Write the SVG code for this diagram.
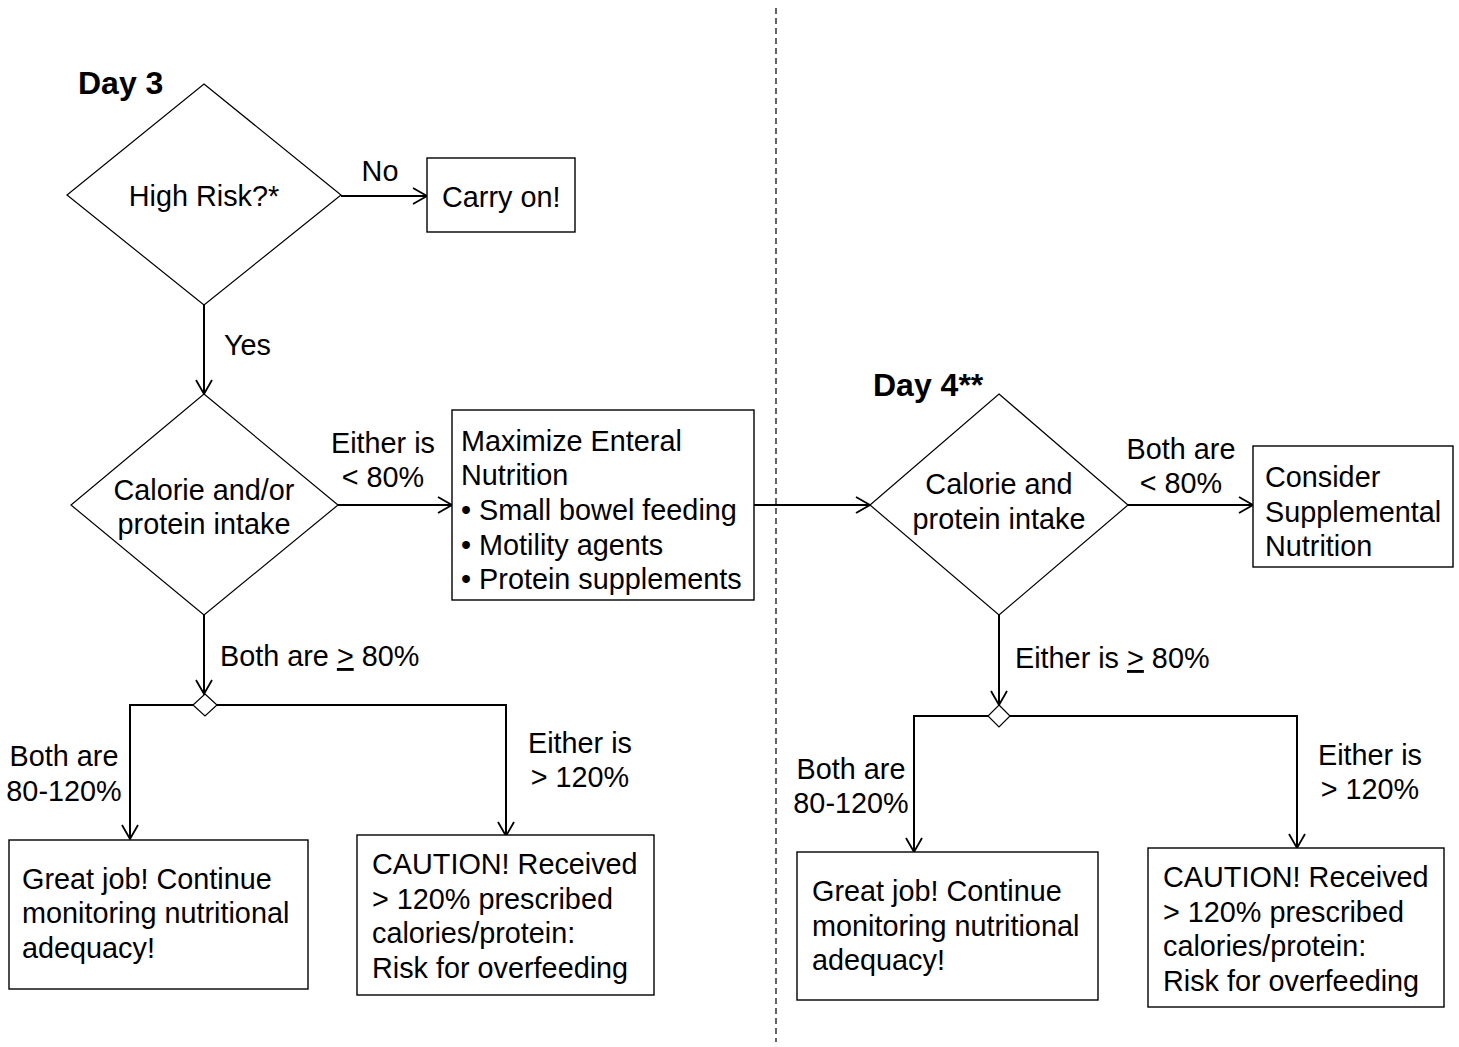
<svg xmlns="http://www.w3.org/2000/svg" width="1459" height="1047" viewBox="0 0 1459 1047">
<defs>
<marker id="arr" markerUnits="userSpaceOnUse" markerWidth="18" markerHeight="20" refX="15" refY="10" orient="auto">
<path d="M1,2 L15,10 L1,18" fill="none" stroke="#000" stroke-width="1.8"/>
</marker>
<style>
text{font-family:"Liberation Sans",Arial,sans-serif;font-size:28.8px;fill:#000}
.b{font-weight:bold;font-size:32px}
.m{text-anchor:middle}
.shape{fill:#fff;stroke:#000;stroke-width:1.2}
.box{fill:#fff;stroke:#000;stroke-width:1.4}
.ca{fill:none;stroke:#000;stroke-width:2;marker-end:url(#arr)}
.u{text-decoration:underline}
</style>
</defs>
<rect width="1459" height="1047" fill="#fff"/>
<line x1="776" y1="8" x2="776" y2="1042" stroke="#000" stroke-width="1.2" stroke-dasharray="6,4"/>
<text class="b" x="78" y="94">Day 3</text>
<text class="b" x="873" y="396">Day 4**</text>

<g id="connectors">
<line class="ca" x1="341" y1="196" x2="427" y2="196"/>
<line class="ca" x1="204" y1="305" x2="204" y2="394"/>
<line class="ca" x1="338" y1="505" x2="452" y2="505"/>
<line class="ca" x1="754" y1="505" x2="870" y2="505"/>
<line class="ca" x1="1128" y1="505" x2="1253" y2="505"/>
<line class="ca" x1="204" y1="615" x2="204" y2="694"/>
<polyline class="ca" points="193,705 130,705 130,839"/>
<polyline class="ca" points="217,705 506,705 506,836"/>
<line class="ca" x1="999" y1="615" x2="999" y2="705"/>
<polyline class="ca" points="988,716 914,716 914,852"/>
<polyline class="ca" points="1010,716 1297,716 1297,848"/>
<text class="m" x="380" y="181">No</text>
<text x="224" y="355">Yes</text>
<text class="m" x="383" y="453">Either is</text>
<text class="m" x="383" y="487">&lt; 80%</text>
<text class="m" x="1181" y="459">Both are</text>
<text class="m" x="1181" y="493">&lt; 80%</text>
<text x="220" y="666">Both are <tspan class="u">&gt;</tspan> 80%</text>
<text x="1015" y="668">Either is <tspan class="u">&gt;</tspan> 80%</text>
<text class="m" x="64" y="766">Both are</text>
<text class="m" x="64" y="801">80-120%</text>
<text class="m" x="580" y="753">Either is</text>
<text class="m" x="580" y="787">&gt; 120%</text>
<text class="m" x="851" y="779">Both are</text>
<text class="m" x="851" y="813">80-120%</text>
<text class="m" x="1370" y="765">Either is</text>
<text class="m" x="1370" y="799">&gt; 120%</text>
</g>

<g id="high-risk">
<polygon class="shape" points="204,84 341,195 204,305 67,195"/>
<text class="m" x="204" y="206">High Risk?*</text>
</g>
<g id="carry-on">
<rect class="box" x="427" y="158" width="148" height="74"/>
<text x="442" y="207">Carry on!</text>
</g>
<g id="intake-day3">
<polygon class="shape" points="204,394 338,505 204,615 71,505"/>
<text class="m" x="204" y="500">Calorie and/or</text>
<text class="m" x="204" y="534">protein intake</text>
</g>
<g id="maximize">
<rect class="box" x="452" y="410" width="302" height="190"/>
<text x="461" y="451">Maximize Enteral</text>
<text x="461" y="485">Nutrition</text>
<text x="461" y="520">• Small bowel feeding</text>
<text x="461" y="555">• Motility agents</text>
<text x="461" y="589">• Protein supplements</text>
</g>
<g id="split-day3">
<polygon class="shape" points="205,694 217,705 205,716 193,705"/>
</g>
<g id="great-day3">
<rect class="box" x="9" y="840" width="299" height="149"/>
<text x="22" y="889">Great job! Continue</text>
<text x="22" y="923">monitoring nutritional</text>
<text x="22" y="958">adequacy!</text>
</g>
<g id="caution-day3">
<rect class="box" x="357" y="835" width="297" height="160"/>
<text x="372" y="874">CAUTION! Received</text>
<text x="372" y="909">&gt; 120% prescribed</text>
<text x="372" y="943">calories/protein:</text>
<text x="372" y="978">Risk for overfeeding</text>
</g>
<g id="intake-day4">
<polygon class="shape" points="999,394 1128,505 999,615 870,505"/>
<text class="m" x="999" y="494">Calorie and</text>
<text class="m" x="999" y="529">protein intake</text>
</g>
<g id="consider">
<rect class="box" x="1253" y="446" width="200" height="121"/>
<text x="1265" y="487">Consider</text>
<text x="1265" y="522">Supplemental</text>
<text x="1265" y="556">Nutrition</text>
</g>
<g id="split-day4">
<polygon class="shape" points="999,705 1010,716 999,727 988,716"/>
</g>
<g id="great-day4">
<rect class="box" x="797" y="852" width="301" height="148"/>
<text x="812" y="901">Great job! Continue</text>
<text x="812" y="936">monitoring nutritional</text>
<text x="812" y="970">adequacy!</text>
</g>
<g id="caution-day4">
<rect class="box" x="1148" y="848" width="296" height="159"/>
<text x="1163" y="887">CAUTION! Received</text>
<text x="1163" y="922">&gt; 120% prescribed</text>
<text x="1163" y="956">calories/protein:</text>
<text x="1163" y="991">Risk for overfeeding</text>
</g>
</svg>
